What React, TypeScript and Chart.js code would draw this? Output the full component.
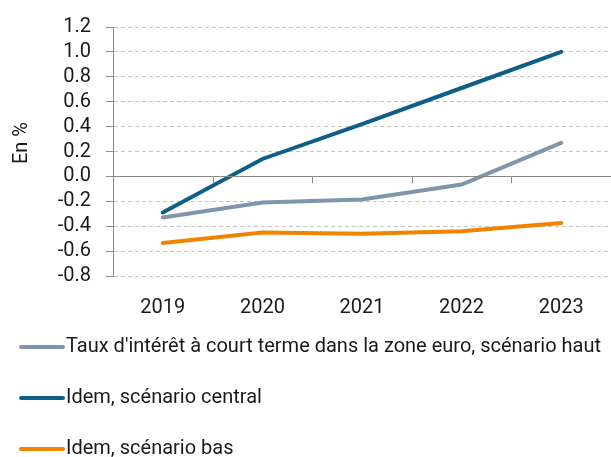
import React, { useEffect, useRef } from "react";
import { Chart, registerables } from "chart.js";

Chart.register(...registerables);

const years = ["2019", "2020", "2021", "2022", "2023"];
const haut = [-0.33, -0.21, -0.185, -0.065, 0.27];
const central = [-0.29, 0.14, 0.42, 0.71, 1.0];
const bas = [-0.535, -0.45, -0.46, -0.44, -0.375];
const labels = [
  "Taux d'intérêt à court terme dans la zone euro, scénario haut",
  "Idem, scénario central",
  "Idem, scénario bas",
];
const colors = ["#8194ad", "#0e5f88", "#f08400"];
const FONT = "Roboto, 'DejaVu Sans', sans-serif";
const FS = 20;

const extras = {
  id: "extras",
  afterDatasetsDraw(chart: any) {
    const { ctx, chartArea, scales } = chart;
    const y0 = scales.y.getPixelForValue(0);
    ctx.save();
    ctx.strokeStyle = "#8a8a8a";
    ctx.lineWidth = 1;
    ctx.beginPath();
    ctx.moveTo(chartArea.left, Math.round(y0) + 0.5);
    ctx.lineTo(chartArea.right, Math.round(y0) + 0.5);
    const n = years.length;
    const w = (chartArea.right - chartArea.left) / n;
    for (let i = 1; i <= n; i++) {
      const x = Math.round(chartArea.left + w * i) + 0.5;
      ctx.moveTo(x, y0);
      ctx.lineTo(x, y0 + 7);
    }
    ctx.stroke();
    // axis title
    ctx.save();
    ctx.translate(22, 143);
    ctx.rotate(-Math.PI / 2);
    ctx.font = FS + "px " + FONT;
    ctx.fillStyle = "#1a1a1a";
    ctx.textAlign = "center";
    ctx.textBaseline = "middle";
    ctx.fillText("En %", 0, 0);
    ctx.restore();
    // legend
    const rows = [347, 398, 449];
    ctx.font = FS + "px " + FONT;
    ctx.textBaseline = "middle";
    ctx.textAlign = "left";
    ctx.lineCap = "round";
    for (let i = 0; i < 3; i++) {
      ctx.strokeStyle = colors[i];
      ctx.lineWidth = 4;
      ctx.beginPath();
      ctx.moveTo(21, rows[i]);
      ctx.lineTo(63, rows[i]);
      ctx.stroke();
      ctx.fillStyle = "#1a1a1a";
      ctx.fillText(labels[i], 66, rows[i]);
    }
    ctx.restore();
  },
};

export default function App() {
  const ref = useRef<HTMLCanvasElement>(null);
  useEffect(() => {
    const ds = [haut, central, bas].map((d, i) => ({
      label: labels[i],
      data: d,
      borderColor: colors[i],
      backgroundColor: colors[i],
      borderWidth: 4,
      pointRadius: 0,
      tension: 0,
      borderCapStyle: "round" as const,
      order: 2 - i,
    }));
    const chart = new Chart(ref.current!, {
      type: "line",
      data: { labels: years, datasets: ds },
      plugins: [extras],
      options: {
        animation: false,
        responsive: false,
        maintainAspectRatio: false,
        layout: { padding: { left: 0, right: 0, top: 22, bottom: 0 } },
        plugins: { legend: { display: false }, tooltip: { enabled: false } },
        scales: {
          x: {
            offset: true,
            grid: { display: false },
            border: { display: false },
            ticks: { color: "#1a1a1a", font: { family: FONT, size: FS }, padding: 12 },
            afterFit: (s: any) => {
              s.height = 181;
            },
          },
          y: {
            min: -0.8,
            max: 1.2,
            afterFit: (s: any) => {
              s.width = 113;
            },
            ticks: {
              stepSize: 0.2,
              autoSkip: false,
              color: "#1a1a1a",
              font: { family: FONT, size: FS },
              padding: 15,
              callback: (v: any) => Number(v).toFixed(1),
            },
            grid: {
              color: (c: any) => (Math.abs(c.tick?.value) < 1e-9 ? "rgba(0,0,0,0)" : "#c4c4c4"),
              tickColor: "#8a8a8a",
              tickLength: 7,
            },
            border: { display: true, color: "#8a8a8a", dash: [4, 3] },
          },
        },
      },
    });
    return () => chart.destroy();
  }, []);
  return (
    <div style={{ position: "absolute", left: 0, top: 0, width: 611, height: 457 }}>
      <canvas ref={ref} width={611} height={457} style={{ width: 611, height: 457 }} />
    </div>
  );
}
